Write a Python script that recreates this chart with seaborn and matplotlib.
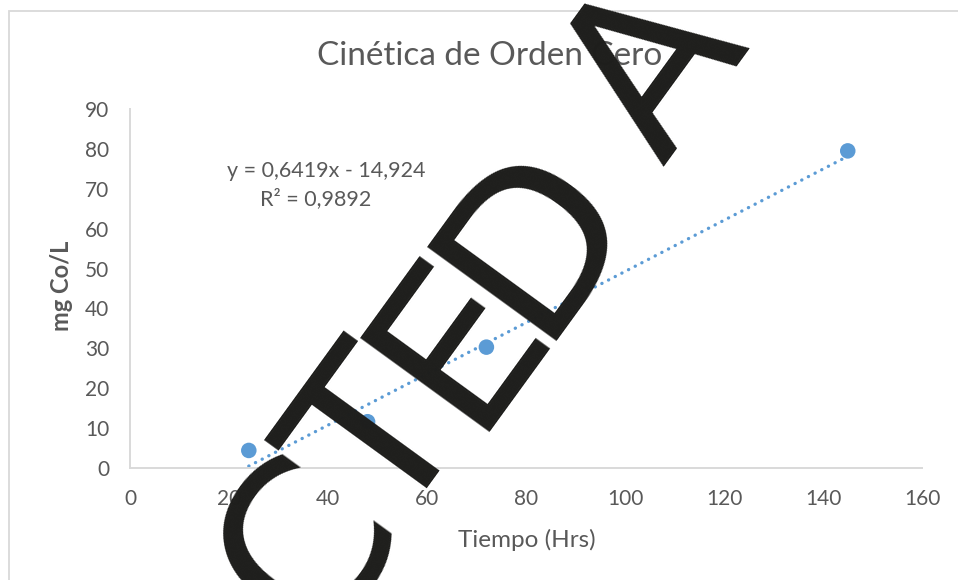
import matplotlib
matplotlib.use("Agg")
import matplotlib.pyplot as plt
from matplotlib.patches import Rectangle
import numpy as np
import pandas as pd
import seaborn as sns

# Measurements: time (h) vs cobalt concentration (mg Co/L)
tiempo = [24, 48, 72, 145]
concentracion = [4.4, 11.6, 30.3, 79.5]

# Zero-order fit reported on the chart
pendiente = 0.6419
intercepto = -14.924
r2 = 0.9892

x_ticks = [0, 20, 40, 60, 80, 100, 120, 140, 160]
y_ticks = [0, 10, 20, 30, 40, 50, 60, 70, 80, 90]

titulo = "Cinética de Orden Cero"
x_label = "Tiempo (Hrs)"
y_label = "mg Co/L"
sello = "REDACTED A"

sns.set_theme(style="white")
plt.rcParams["font.family"] = ["Lato", "DejaVu Sans"]

TEXT = "#595959"
AXIS = "#D9D9D9"
BLUE = "#5B9BD5"

W, H = 958, 580
fig = plt.figure(figsize=(W / 100, H / 100), dpi=100)
fig.patch.set_facecolor("white")

# chart-area frame
fig.patches.append(Rectangle((9 / W, -0.2), 1.5, 1 - 11 / H + 0.2,
                             transform=fig.transFigure, fill=False,
                             ec=AXIS, lw=1.3, zorder=0))

ax = fig.add_axes([130 / W, 1 - 468 / H, (922 - 130) / W, (468 - 109) / H])
ax.set_facecolor("none")

df = pd.DataFrame({"tiempo": tiempo, "conc": concentracion})
xs = np.array([min(tiempo), max(tiempo)], dtype=float)
trend = pd.DataFrame({"x": xs, "y": pendiente * xs + intercepto})

sns.lineplot(data=trend, x="x", y="y", ax=ax, color=BLUE, lw=2.4, zorder=2)
for ln in ax.lines:
    ln.set_dashes((0.05, 2.2))
    ln.set_dash_capstyle("round")

sns.scatterplot(data=df, x="tiempo", y="conc", ax=ax, color=BLUE, s=125,
                edgecolor="none", zorder=3, clip_on=False)

ax.set_xlim(0, 160)
ax.set_ylim(0, 90)
ax.set_xticks(x_ticks)
ax.set_yticks(y_ticks)
ax.set_xlabel("")
ax.set_ylabel("")
for side in ("top", "right"):
    ax.spines[side].set_visible(False)
for side in ("left", "bottom"):
    ax.spines[side].set_color(AXIS)
    ax.spines[side].set_linewidth(1.4)
ax.tick_params(axis="both", direction="out", colors=AXIS, labelcolor=TEXT,
               length=6, width=1.4, labelsize=15)
ax.tick_params(axis="y", pad=9)
ax.tick_params(axis="x", pad=9)
ax.grid(False)

fig.text(490 / W, 1 - 65 / H, titulo, ha="center", va="baseline",
         fontsize=24, color=TEXT)
fig.text(527 / W, 1 - 547 / H, x_label, ha="center", va="baseline",
         fontsize=17.5, color=TEXT)
fig.text(62 / W, 1 - 286 / H, y_label, ha="center", va="center",
         rotation=90, fontsize=17, fontweight="bold", color=TEXT)

eq = f"y = {pendiente:.4f}x - {abs(intercepto):.3f}".replace(".", ",")
r2_txt = f"R² = {r2:.4f}".replace(".", ",")
fig.text(326 / W, 1 - 177 / H, eq, ha="center", va="baseline",
         fontsize=15.5, color=TEXT)
fig.text(316 / W, 1 - 205 / H, r2_txt, ha="center", va="baseline",
         fontsize=15.5, color=TEXT)

# diagonal stamp across the chart, set letter by letter along a 54° baseline
angle = np.deg2rad(54)
origin = np.array([549.0, 322.0])          # pixel point on the baseline
step, gap = 128.0, 78.0                    # letter pitch and word gap (px)
d = -835.0
for ch in sello:
    if ch == " ":
        d += gap
        continue
    px = origin[0] + d * np.cos(angle)
    py = origin[1] - d * np.sin(angle)
    fig.text(px / W, 1 - py / H, ch, rotation=54, rotation_mode="anchor",
             ha="center", va="baseline", fontsize=158, color="#1E1E1C",
             family="DejaVu Sans", zorder=10)
    d += step

fig.savefig("out.png", dpi=100)
